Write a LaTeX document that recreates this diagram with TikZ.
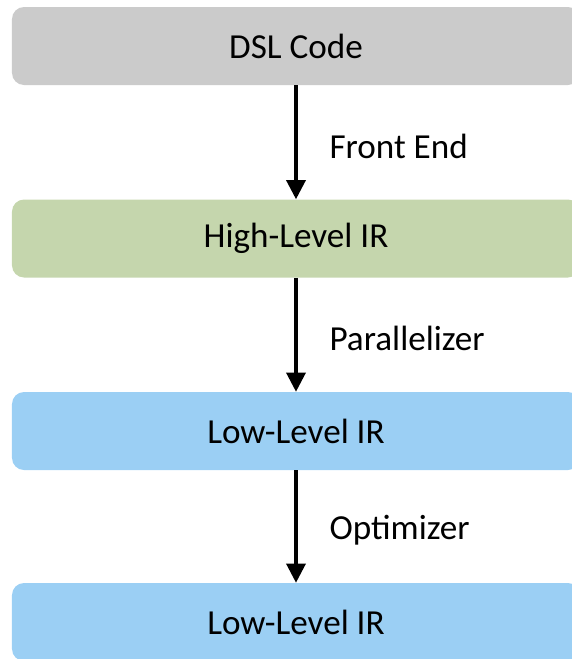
\documentclass[tikz,border=0pt]{standalone}
\usepackage{fontspec}
\setmainfont{Carlito}
\usepackage{tikz}
\usetikzlibrary{arrows.meta, positioning, calc}
\definecolor{dslgray}{HTML}{CBCBCB}
\definecolor{highgreen}{HTML}{C5D6AD}
\definecolor{lowblue}{HTML}{9BCFF4}
\tikzset{
    stage_box/.style={
        rectangle, rounded corners=0.3cm, draw=none,
        minimum width=14.2cm, minimum height=1.95cm,
        align=center, font=\fontsize{25}{30}\selectfont, text=black
    },
    stage_gray/.style={stage_box, fill=dslgray},
    stage_green/.style={stage_box, fill=highgreen},
    stage_blue/.style={stage_box, fill=lowblue},
    pass_arrow/.style={
        -{Triangle[width=0.48cm, length=0.48cm]}, draw=black, line width=2.2pt
    },
    pass_lbl/.style={
        font=\fontsize{25}{30}\selectfont, text=black, inner sep=0pt
    }
}

\begin{document}
\begin{tikzpicture}
\path[use as bounding box, clip] (0,0) rectangle (14.3,-16.475);

\node[stage_gray] (dsl) at (7.4, -1.15) {DSL Code};
\node[stage_green] (high) at (7.4, -5.9625) {High-Level IR};
\node[stage_blue] (low) at (7.4, -10.775) {Low-Level IR};
\node[stage_blue] (lowopt) at (7.4, -15.55) {Low-Level IR};

\draw[pass_arrow] (dsl) -- node[pass_lbl, right=0.8cm, yshift=-0.1cm] (fe) {Front End} (high);
\draw[pass_arrow] (high) -- node[pass_lbl, right=0.8cm, yshift=-0.1cm] (par) {Parallelizer} (low);
\draw[pass_arrow] (low) -- node[pass_lbl, right=0.8cm, yshift=-0.1cm] (opt) {Optimizer} (lowopt);
\end{tikzpicture}
\end{document}
